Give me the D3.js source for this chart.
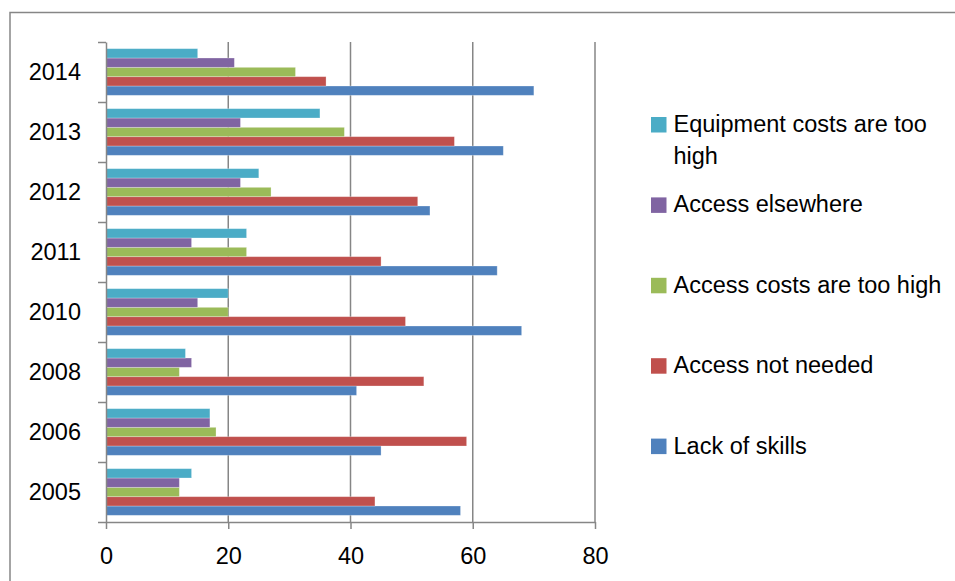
<!DOCTYPE html>
<html>
<head>
<meta charset="utf-8">
<script src="https://cdn.jsdelivr.net/npm/d3@7"></script>
<style>
  body { margin: 0; background: #fff; }
  svg { display: block; font-family: "Liberation Sans", Arial, sans-serif; }
</style>
</head>
<body>
<div id="chart"></div>
<script>
// Categories, top to bottom as drawn
const YEARS = ["2014", "2013", "2012", "2011", "2010", "2008", "2006", "2005"];

// Series (Excel order: first series sits at the bottom of each group)
const SERIES = [
  "Lack of skills",
  "Access not needed",
  "Access costs are too high",
  "Access elsewhere",
  "Equipment costs are too high",
];

// Values per year, same order as YEARS
const LACK_OF_SKILLS = [70, 65, 53, 64, 68, 41, 45, 58];
const ACCESS_NOT_NEEDED = [36, 57, 51, 45, 49, 52, 59, 44];
const ACCESS_COSTS = [31, 39, 27, 23, 20, 12, 18, 12];
const ACCESS_ELSEWHERE = [21, 22, 22, 14, 15, 14, 17, 12];
const EQUIPMENT_COSTS = [15, 35, 25, 23, 20, 13, 17, 14];

const X_TICKS = [0, 20, 40, 60, 80];

const COLORS = {
  "Lack of skills": "#4F81BD",
  "Access not needed": "#C0504D",
  "Access costs are too high": "#9BBB59",
  "Access elsewhere": "#8064A2",
  "Equipment costs are too high": "#4BACC6",
  axis: "#868686",
  text: "#000",
};

const LEGEND_LINES = {
  "Equipment costs are too high": ["Equipment costs are too", "high"],
};

const CONFIG = {
  width: 955,
  height: 581,
  plot: { left: 106, right: 595, top: 42, bottom: 522 },
  fontSize: 23.5,
};

const valuesBySeries = {
  "Lack of skills": LACK_OF_SKILLS,
  "Access not needed": ACCESS_NOT_NEEDED,
  "Access costs are too high": ACCESS_COSTS,
  "Access elsewhere": ACCESS_ELSEWHERE,
  "Equipment costs are too high": EQUIPMENT_COSTS,
};

const rows = [];
YEARS.forEach((year, i) => {
  SERIES.forEach((s) => rows.push({ year, series: s, value: valuesBySeries[s][i] }));
});

const svg = d3
  .select("#chart")
  .append("svg")
  .attr("width", CONFIG.width)
  .attr("height", CONFIG.height);

// Outer chart border (only top and left visible in the crop)
svg
  .append("rect")
  .attr("x", 10)
  .attr("y", 12.5)
  .attr("width", 1000)
  .attr("height", 700)
  .attr("fill", "none")
  .attr("stroke", COLORS.axis)
  .attr("stroke-width", 1.5);

const p = CONFIG.plot;

const x = d3.scaleLinear().domain([0, 80]).range([p.left, p.right]);

const y = d3
  .scaleBand()
  .domain(YEARS)
  .range([p.top, p.bottom])
  .paddingInner(0.222)
  .paddingOuter(0.111);

// Top of group = last series
const ySub = d3
  .scaleBand()
  .domain(SERIES.slice().reverse())
  .range([0, y.bandwidth()]);

// Boundary scale for category tick marks
const yEdge = d3.scaleLinear().domain([0, YEARS.length]).range([p.top, p.bottom]);

// Gridlines
svg
  .append("g")
  .attr("class", "grid")
  .selectAll("line")
  .data(X_TICKS.filter((t) => t > 0))
  .enter()
  .append("line")
  .attr("x1", (d) => x(d))
  .attr("x2", (d) => x(d))
  .attr("y1", p.top)
  .attr("y2", p.bottom)
  .attr("stroke", COLORS.axis)
  .attr("stroke-width", 1.5);

// Bars
svg
  .append("g")
  .attr("class", "bars")
  .selectAll("rect")
  .data(rows)
  .enter()
  .append("rect")
  .attr("x", x(0))
  .attr("y", (d) => y(d.year) + ySub(d.series))
  .attr("width", (d) => x(d.value) - x(0))
  .attr("height", ySub.bandwidth())
  .attr("fill", (d) => COLORS[d.series])
  .attr("stroke", "#fff")
  .attr("stroke-opacity", 0.35)
  .attr("stroke-width", 0.8);

// X axis
const xAxis = svg
  .append("g")
  .attr("class", "x-axis")
  .attr("transform", `translate(0, ${p.bottom})`)
  .call(
    d3.axisBottom(x).tickValues(X_TICKS).tickSize(7).tickSizeOuter(0).tickPadding(18)
  );
xAxis.selectAll("line, path").attr("stroke", COLORS.axis).attr("stroke-width", 1.5);
xAxis
  .selectAll("text")
  .attr("fill", COLORS.text)
  .style("font-size", `${CONFIG.fontSize}px`)
  .style("font-family", '"Liberation Sans", Arial, sans-serif');

// Y axis line + boundary ticks
const yAxis = svg
  .append("g")
  .attr("class", "y-axis")
  .attr("transform", `translate(${p.left}, 0)`)
  .call(
    d3
      .axisLeft(yEdge)
      .tickValues(d3.range(YEARS.length + 1))
      .tickFormat("")
      .tickSize(8)
      .tickSizeOuter(0)
  );
yAxis.selectAll("line, path").attr("stroke", COLORS.axis).attr("stroke-width", 1.5);

// Year labels
const yLabels = svg
  .append("g")
  .attr("class", "y-labels")
  .attr("transform", `translate(${p.left}, 0)`)
  .call(d3.axisLeft(y).tickSize(0).tickPadding(25));
yLabels.select(".domain").remove();
yLabels
  .selectAll("text")
  .attr("fill", COLORS.text)
  .style("font-size", `${CONFIG.fontSize}px`)
  .style("font-family", '"Liberation Sans", Arial, sans-serif');

// Legend
const legendOrder = SERIES.slice().reverse();
const legend = svg.append("g").attr("class", "legend").attr("transform", "translate(651, 117)");

legendOrder.forEach((s, i) => {
  const item = legend.append("g").attr("transform", `translate(0, ${i * 80.4})`);
  item
    .append("rect")
    .attr("width", 15.5)
    .attr("height", 15.5)
    .attr("fill", COLORS[s]);
  const lines = LEGEND_LINES[s] || [s];
  lines.forEach((line, j) => {
    item
      .append("text")
      .attr("x", 22.5)
      .attr("y", 15 + j * 32)
      .attr("fill", COLORS.text)
      .style("font-size", `${CONFIG.fontSize}px`)
      .text(line);
  });
});
</script>
</body>
</html>
